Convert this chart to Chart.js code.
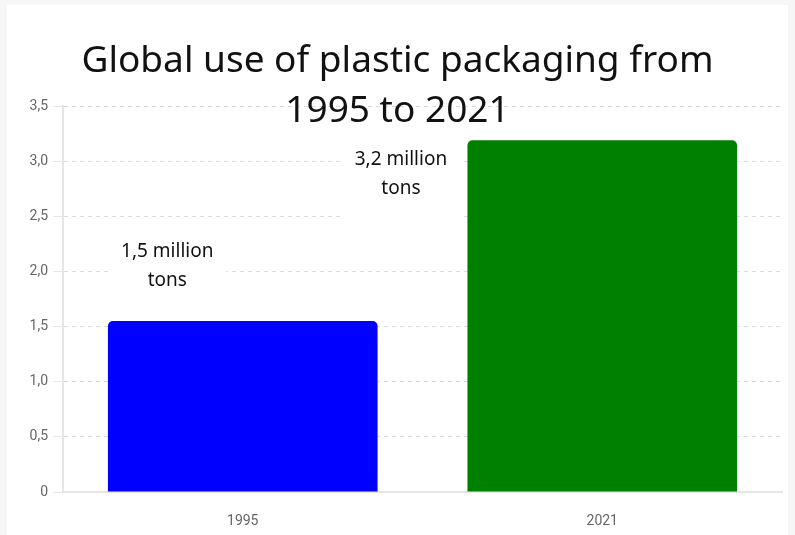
<!DOCTYPE html>
<html>
<head>
<meta charset="utf-8">
<script src="https://cdn.jsdelivr.net/npm/chart.js@4.4.1/dist/chart.umd.min.js"></script>
<style>
  html, body { margin: 0; padding: 0; background: #f6f6f6; }
  #wrap { position: absolute; left: 7px; top: 5px; width: 781px; height: 530px; background: #fff; }
  #chart { position: absolute; left: -7px; top: -5px; }
  #title {
    position: absolute; left: 0; top: 28px; width: 795px; margin-left: -7px;
    text-align: center; font-family: "Noto Sans", sans-serif; font-size: 37px;
    line-height: 50px; color: #111; pointer-events: none;
  }
</style>
</head>
<body>
<div id="wrap">
  <canvas id="chart" width="795" height="535"></canvas>
  <div id="title">Global use of plastic packaging from<br>1995 to 2021</div>
</div>
<script>
// ====== DATOS ======
const years = ["1995", "2021"];
const tons = [1.55, 3.19];
const barColors = ["#0000ff", "#008000"];
const noteLines = [["1,5 million", "tons"], ["3,2 million", "tons"]];
const noteAt = [2.05, 2.89];   // altura (valor del eje y) de cada nota

// notas de texto con fondo blanco encima de las líneas de la cuadrícula
const notesPlugin = {
  id: "notes",
  afterDatasetsDraw(chart) {
    const ctx = chart.ctx;
    const x = chart.scales.x, y = chart.scales.y;
    const step = x.getPixelForValue(1) - x.getPixelForValue(0);
    const shift = [-0.21, -0.56];  // desplazamiento en fracción de categoría
    ctx.save();
    ctx.font = "19px 'Noto Sans', sans-serif";
    ctx.textAlign = "center";
    ctx.textBaseline = "middle";
    noteLines.forEach((lines, i) => {
      const cx = x.getPixelForValue(i) + shift[i] * step;
      const cy = y.getPixelForValue(noteAt[i]);
      ctx.fillStyle = "#fff";
      ctx.fillRect(cx - 59, cy - 35, 118, 86);
      ctx.fillStyle = "#111";
      ctx.fillText(lines[0], cx, cy - 14);
      ctx.fillText(lines[1], cx, cy + 15);
    });
    ctx.restore();
  }
};

new Chart(document.getElementById("chart"), {
  type: "bar",
  data: {
    labels: years,
    datasets: [{
      data: tons,
      backgroundColor: barColors,
      borderRadius: { topLeft: 5, topRight: 5 },
      borderSkipped: "bottom",
      barPercentage: 0.75,
      categoryPercentage: 1
    }]
  },
  options: {
    responsive: false,
    animation: false,
    layout: { padding: { top: 106, right: 13, left: 8, bottom: 0 } },
    plugins: { legend: { display: false }, tooltip: { enabled: false } },
    scales: {
      x: {
        grid: { display: false },
        border: { color: "#e6e6e6", width: 2 },
        ticks: { color: "#666", font: { family: "Roboto", size: 14 }, padding: 13 },
        afterFit: (s) => { s.height = 43; }
      },
      y: {
        min: 0, max: 3.5,
        ticks: {
          stepSize: 0.5, color: "#666", padding: 5,
          font: { family: "Roboto", size: 14 },
          callback: (v) => v === 0 ? "0" : v.toFixed(1).replace(".", ",")
        },
        grid: { color: "#dcdcdc", tickColor: "#e6e6e6", tickLength: 10, tickBorderDash: [] },
        border: { color: "#e6e6e6", width: 2, dash: [4, 4] },
        afterFit: (s) => { s.width = 55; }
      }
    }
  },
  plugins: [notesPlugin]
});
</script>
</body>
</html>
